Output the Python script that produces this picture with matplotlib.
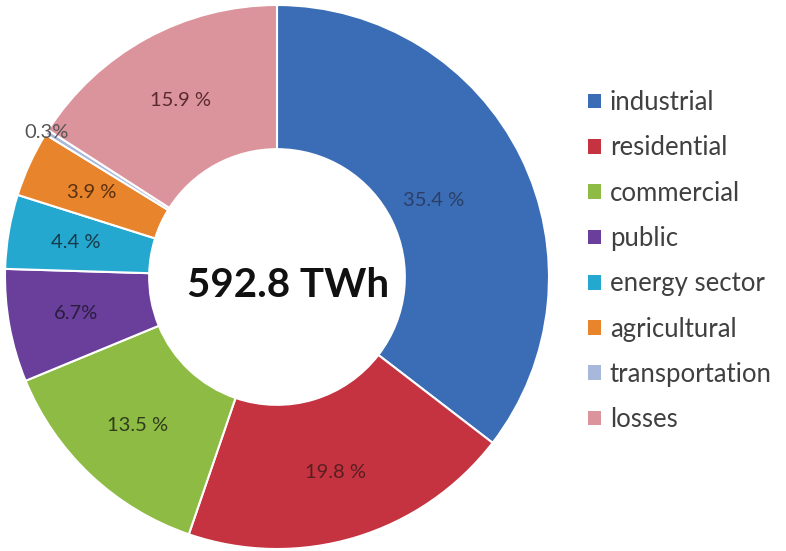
import matplotlib.pyplot as plt
import numpy as np
from matplotlib.patches import Patch

# data
categories = ['industrial', 'residential', 'commercial', 'public',
              'energy sector', 'agricultural', 'transportation', 'losses']
shares = [35.4, 19.8, 13.5, 6.7, 4.4, 3.9, 0.3, 15.9]
pct_labels = ['35.4 %', '19.8 %', '13.5 %', '6.7%', '4.4 %', '3.9 %', '0.3%', '15.9 %']
total_label = '592.8 TWh'

colors = ['#3a6db5', '#c53340', '#8dbb43', '#6a3f9c', '#25a8cf',
          '#e8842b', '#a8b8da', '#dc949c']
text_colors = ['#2b3f66', '#5a1e22', '#2f3d1c', '#2a1c3e', '#173a4a',
               '#5a3010', '#555555', '#5a2a30']
label_r = [0.64, 0.75, 0.75, 0.75, 0.75, 0.75, 1.0, 0.74]

plt.rcParams['font.family'] = ['Lato', 'DejaVu Sans']

fig = plt.figure(figsize=(7.86, 5.51), dpi=100)
ax = fig.add_axes([5 / 786, 2 / 551, 544 / 786, 544 / 551])

wedges, _ = ax.pie(shares, colors=colors, startangle=90, counterclock=False,
                   radius=1.0, wedgeprops=dict(width=0.53, edgecolor='white', linewidth=1.5))

# percentage labels at mid-angle of each wedge
total = sum(shares)
cum = 0.0
for val, lab, r, tc in zip(shares, pct_labels, label_r, text_colors):
    mid = 90 - (cum + val / 2) / total * 360
    cum += val
    x = r * np.cos(np.radians(mid))
    y = r * np.sin(np.radians(mid))
    ax.text(x, y, lab, ha='center', va='center', fontsize=14.5, color=tc)

ax.text(0.04, -0.03, total_label, ha='center', va='center', fontsize=29,
        fontweight='bold', color='#111111')

ax.set_xlim(-1.0, 1.0)
ax.set_ylim(-1.0, 1.0)
ax.set_aspect('equal')

handles = [Patch(facecolor=c, edgecolor='none') for c in colors]
fig.legend(handles, categories, loc='upper left',
           bbox_to_anchor=(565 / 786, 1 - 67 / 551), frameon=False,
           fontsize=18.5, handlelength=0.5, handleheight=0.5,
           handletextpad=0.35, labelspacing=0.79, labelcolor='#404040')

fig.savefig('out.png', dpi=100, facecolor='white')
